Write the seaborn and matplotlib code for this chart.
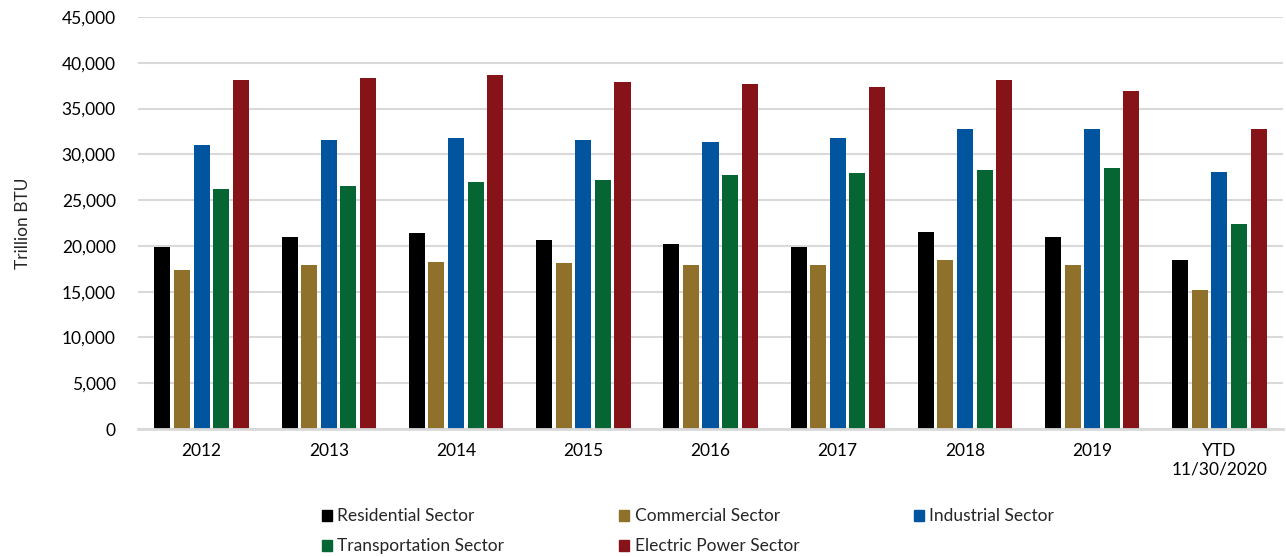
import matplotlib
matplotlib.use("Agg")
import matplotlib.pyplot as plt
import matplotlib.patches as mpatches
import seaborn as sns
import pandas as pd

periods = ["2012", "2013", "2014", "2015", "2016", "2017", "2018", "2019", "YTD\n11/30/2020"]
sectors = ["Residential Sector", "Commercial Sector", "Industrial Sector",
           "Transportation Sector", "Electric Power Sector"]
residential = [19860, 20990, 21360, 20630, 20190, 19860, 21570, 20990, 18480]
commercial = [17350, 17930, 18290, 18110, 17930, 17930, 18480, 17930, 15200]
industrial = [30980, 31560, 31780, 31560, 31380, 31780, 32730, 32730, 28100]
transportation = [26200, 26570, 26970, 27150, 27730, 27920, 28320, 28500, 22340]
electric_power = [38120, 38300, 38670, 37940, 37720, 37350, 38120, 36950, 32730]
colors = ["#000000", "#8F712C", "#00559E", "#066633", "#861317"]

series = [residential, commercial, industrial, transportation, electric_power]
df = pd.DataFrame([
    {"period": p, "sector": s, "value": v}
    for s, vals in zip(sectors, series)
    for p, v in zip(periods, vals)
])

sns.set_theme(style="white")
plt.rcParams['font.family'] = ['Lato', 'DejaVu Sans']

fig = plt.figure(figsize=(12.86, 5.57), dpi=100)
ax = fig.add_axes([0.1073, 0.2298, 0.8904, 0.7397])

sns.barplot(data=df, x="period", y="value", hue="sector", order=periods, hue_order=sectors,
            palette=colors, saturation=1, width=0.77, gap=0.18, legend=False, ax=ax,
            linewidth=0)

ax.set_ylim(0, 45000)
ax.set_yticks(range(0, 45001, 5000))
ax.set_yticklabels([f"{t:,}" for t in range(0, 45001, 5000)])
ax.set_xlim(-0.5, len(periods) - 0.5)
ax.yaxis.grid(True, color="#d9d9d9", linewidth=1.5)
ax.set_axisbelow(True)
for side in ["top", "right", "left"]:
    ax.spines[side].set_visible(False)
ax.spines["bottom"].set_color("#d9d9d9")
ax.spines["bottom"].set_linewidth(2)
ax.tick_params(axis="both", length=0, labelsize=12.5, colors="#000000")
ax.tick_params(axis="x", pad=10)
ax.tick_params(axis="y", pad=16)
ax.set_xlabel("")
ax.set_ylabel("Trillion BTU", fontsize=12.5, labelpad=22)

# row-wise legend order (matplotlib fills columns first)
order = [0, 3, 1, 4, 2]
handles = [mpatches.Patch(color=colors[i], label=sectors[i]) for i in order]
fig.legend(handles=handles, ncol=3, loc="center", bbox_to_anchor=(0.535, 0.046),
           frameon=False, fontsize=12.5, handlelength=0.6, handleheight=0.6,
           handletextpad=0.3, columnspacing=6.6, labelspacing=0.8)

fig.savefig("out.png", dpi=100)
